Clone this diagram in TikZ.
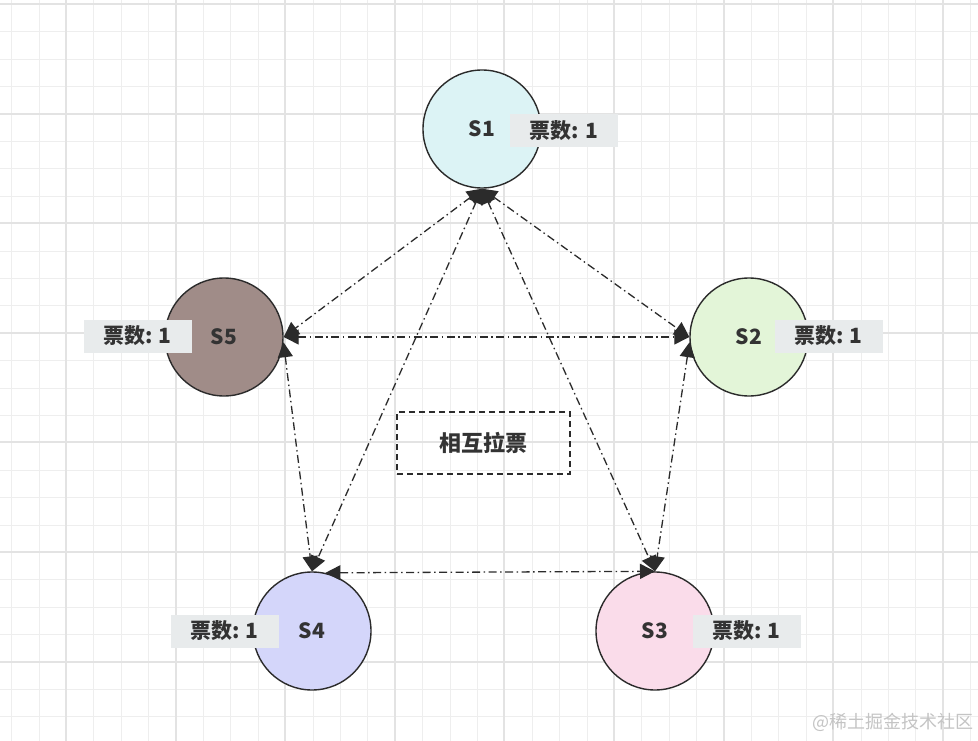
\documentclass[tikz,border=0pt]{standalone}
\usepackage{fontspec}
\setmainfont{Noto Sans CJK SC}
\usetikzlibrary{arrows.meta}
\definecolor{linec}{HTML}{2B2B2B}
\definecolor{textc}{HTML}{333333}
\definecolor{labelc}{HTML}{E8EBEC}
\definecolor{gridminor}{HTML}{EEEEEE}
\definecolor{gridmajor}{HTML}{E3E3E3}
\definecolor{fillA}{HTML}{DCF3F5}
\definecolor{fillB}{HTML}{E3F5D8}
\definecolor{fillC}{HTML}{FADCEA}
\definecolor{fillD}{HTML}{D4D6FA}
\definecolor{fillE}{HTML}{A08C88}
\definecolor{markc}{HTML}{C4C4C4}
\tikzset{
  srv/.style={circle, draw=linec, line width=1.4pt, minimum size=118pt, inner sep=0pt,
    font=\fontsize{21}{24}\selectfont\bfseries, text=textc},
  votes/.style={rectangle, fill=labelc, minimum width=108pt, minimum height=33pt, inner sep=0pt,
    font=\fontsize{21}{24}\selectfont\bfseries, text=textc},
  vote/.style={draw=linec, line width=1.3pt, dash pattern=on 8pt off 3.5pt on 1.5pt off 3.5pt,
    {Triangle[length=15pt,width=15pt]}-{Triangle[length=15pt,width=15pt]}},
  groupbox/.style={draw=linec, line width=1.4pt, dash pattern=on 6pt off 4pt,
    minimum width=173pt, minimum height=62pt, inner sep=0pt,
    font=\fontsize{22}{24}\selectfont\bfseries, text=textc},
  minorline/.style={draw=gridminor, line width=1pt},
  majorline/.style={draw=gridmajor, line width=2pt},
}
\begin{document}
\begin{tikzpicture}[x=1pt,y=-1pt]
\useasboundingbox (0,0) rectangle (978,741);
\fill[white] (0,0) rectangle (978,741);
% grid
\foreach \k in {0,...,35} { \draw[minorline] ({round(11.2+27.4*\k)+0.5},0) -- ({round(11.2+27.4*\k)+0.5},741); }
\foreach \k in {0,...,26} { \draw[minorline] (0,{round(4+27.4*\k)+0.5}) -- (978,{round(4+27.4*\k)+0.5}); }
\foreach \k in {0,...,8} { \draw[majorline] ({round(66+109.6*\k)},0) -- ({round(66+109.6*\k)},741); }
\foreach \k in {0,...,6} { \draw[majorline] (0,{round(4+109.6*\k)}) -- (978,{round(4+109.6*\k)}); }
% servers
\node[srv, fill=fillA] (s1) at (482,129) {S1};
\node[srv, fill=fillB] (s2) at (749,337) {S2};
\node[srv, fill=fillC] (s3) at (655,631) {S3};
\node[srv, fill=fillD] (s4) at (312,631) {S4};
\node[srv, fill=fillE] (s5) at (224,337) {S5};
% vote labels
\node[votes] (v1) at (564,131) {票数: 1};
\node[votes] (v2) at (828.5,336) {票数: 1};
\node[votes] (v3) at (746.5,631) {票数: 1};
\node[votes] (v4) at (224.5,631) {票数: 1};
\node[votes] (v5) at (137.5,336) {票数: 1};
% group label
\node[groupbox] (g) at (483.5,443) {相互拉票};
% connectors
\draw[vote] (s1.south) -- (s5.east);
\draw[vote] (s1.south) -- (s2.west);
\draw[vote] (s1.south) -- (s4.north);
\draw[vote] (s1.south) -- (s3.north);
\draw[vote] (s5.east) -- (s2.west);
\draw[vote] (s5.-5) -- (s4.north);
\draw[vote] (s2.-175) -- (s3.north);
\draw[vote] (s4.77) -- (s3.north);
% watermark
\node[text=markc, font=\fontsize{18}{20}\selectfont] (wm) at (893,722) {@稀土掘金技术社区};
\end{tikzpicture}
\end{document}
